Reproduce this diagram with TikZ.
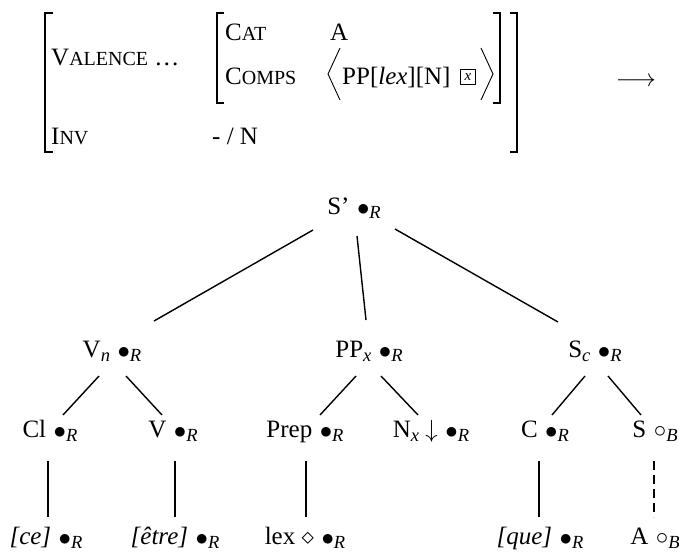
\documentclass[tikz,border=0pt]{standalone}
\usepackage{fontspec}
\setmainfont{Liberation Serif}
\newcommand\subit[1]{\raisebox{-4.5pt}{\fontsize{18.5}{18.5}\selectfont\itshape #1}}
\newcommand\bR{\hspace{0.3em}\raisebox{-1.5pt}{$\bullet$}\subit{R}}
\newcommand\cB{\hspace{0.3em}\raisebox{-0.5pt}{$\circ$}\subit{B}}
\newcommand\fsc[2]{#1{\fontsize{20}{22}\selectfont #2}}
\tikzset{
  lab/.style={font=\fontsize{25}{29}\selectfont, inner sep=0pt, anchor=base},
  avm/.style={font=\fontsize{25}{29}\selectfont, inner sep=0pt, anchor=base west},
  edge/.style={line width=1.4pt},
  brk/.style={line width=1.3pt},
  ang/.style={line width=0.9pt},
}
\begin{document}
\begin{tikzpicture}[x=1pt,y=-1pt]
\useasboundingbox (0,0) rectangle (679,552);
% ---- AVM ----
\draw[brk] (53,13) -- (45,13) -- (45,152) -- (53,152);
\draw[brk] (224,13) -- (217,13) -- (217,103) -- (224,103);
\draw[brk] (493,13) -- (500,13) -- (500,103) -- (493,103);
\draw[brk] (510,13) -- (517,13) -- (517,152) -- (510,152);
\node[avm] (val) at (51,65) {\fsc{V}{ALENCE} \ldots};
\node[avm] (cat) at (225,40) {\fsc{C}{AT}};
\node[avm] (catv) at (330,40) {A};
\node[avm] (comps) at (225,84) {\fsc{C}{OMPS}};
\node[avm] (compsv) at (342,84) {PP[\textit{lex}][N]};
\node[draw, line width=0.7pt, minimum size=15pt, inner sep=0pt, font=\fontsize{15}{15}\selectfont\itshape] (bx) at (468,77) {x};
\draw[ang] (340,48) -- (328,74) -- (340,100);
\draw[ang] (481,48) -- (493,74) -- (481,100);
\node[avm] (inv) at (51,144) {\fsc{I}{NV}};
\node[avm] (invv) at (212,144) {- / N};
\node[lab, anchor=center] (arr) at (636,82) {$\longrightarrow$};
% ---- tree nodes ----
\node[lab] (sp) at (354,214) {S'\bR};
\node[lab] (vn) at (112,357) {V\subit{n}\bR};
\node[lab] (pp) at (369,357) {PP\subit{x}\bR};
\node[lab] (sc) at (595,357) {S\subit{c}\bR};
\node[lab] (cl) at (50,437) {Cl\bR};
\node[lab] (v) at (173,437) {V\bR};
\node[lab] (prep) at (305,437) {Prep\bR};
\node[lab] (nx) at (431,437) {N\subit{x} $\downarrow$\bR};
\node[lab] (c) at (545,437) {C\bR};
\node[lab] (s) at (655,437) {S\cB};
\node[lab] (ce) at (46,544) {\textit{[ce]}\bR};
\node[lab] (etre) at (175,544) {\textit{[être]}\bR};
\node[lab] (lex) at (305,544) {lex $\diamond$\bR};
\node[lab] (que) at (540,544) {\textit{[que]}\bR};
\node[lab] (a) at (655,544) {A\cB};
% ---- edges ----
\draw[edge] ([shift={(-41,16)}]sp.base) -- ([shift={(42,-36)}]vn.base);
\draw[edge] ([shift={(3,22)}]sp.base) -- ([shift={(-3,-37)}]pp.base);
\draw[edge] ([shift={(41,15)}]sp.base) -- ([shift={(-37,-35)}]sc.base);
\draw[edge] ([shift={(-13,19)}]vn.base) -- ([shift={(13,-22)}]cl.base);
\draw[edge] ([shift={(14,19)}]vn.base) -- ([shift={(-11,-22)}]v.base);
\draw[edge] ([shift={(-13,19)}]pp.base) -- ([shift={(15,-22)}]prep.base);
\draw[edge] ([shift={(12,19)}]pp.base) -- ([shift={(-13,-22)}]nx.base);
\draw[edge] ([shift={(-10,19)}]sc.base) -- ([shift={(7,-22)}]c.base);
\draw[edge] ([shift={(13,19)}]sc.base) -- ([shift={(-14,-22)}]s.base);
\draw[edge] ([shift={(-2,24)}]cl.base) -- ([shift={(2,-27)}]ce.base);
\draw[edge] ([shift={(2,24)}]v.base) -- ([shift={(0,-27)}]etre.base);
\draw[edge] ([shift={(1,24)}]prep.base) -- ([shift={(1,-27)}]lex.base);
\draw[edge] ([shift={(-6,24)}]c.base) -- ([shift={(-1,-27)}]que.base);
\draw[edge, dash pattern=on 9pt off 5pt] ([shift={(-1,24)}]s.base) -- ([shift={(-1,-27)}]a.base);
\end{tikzpicture}
\end{document}
